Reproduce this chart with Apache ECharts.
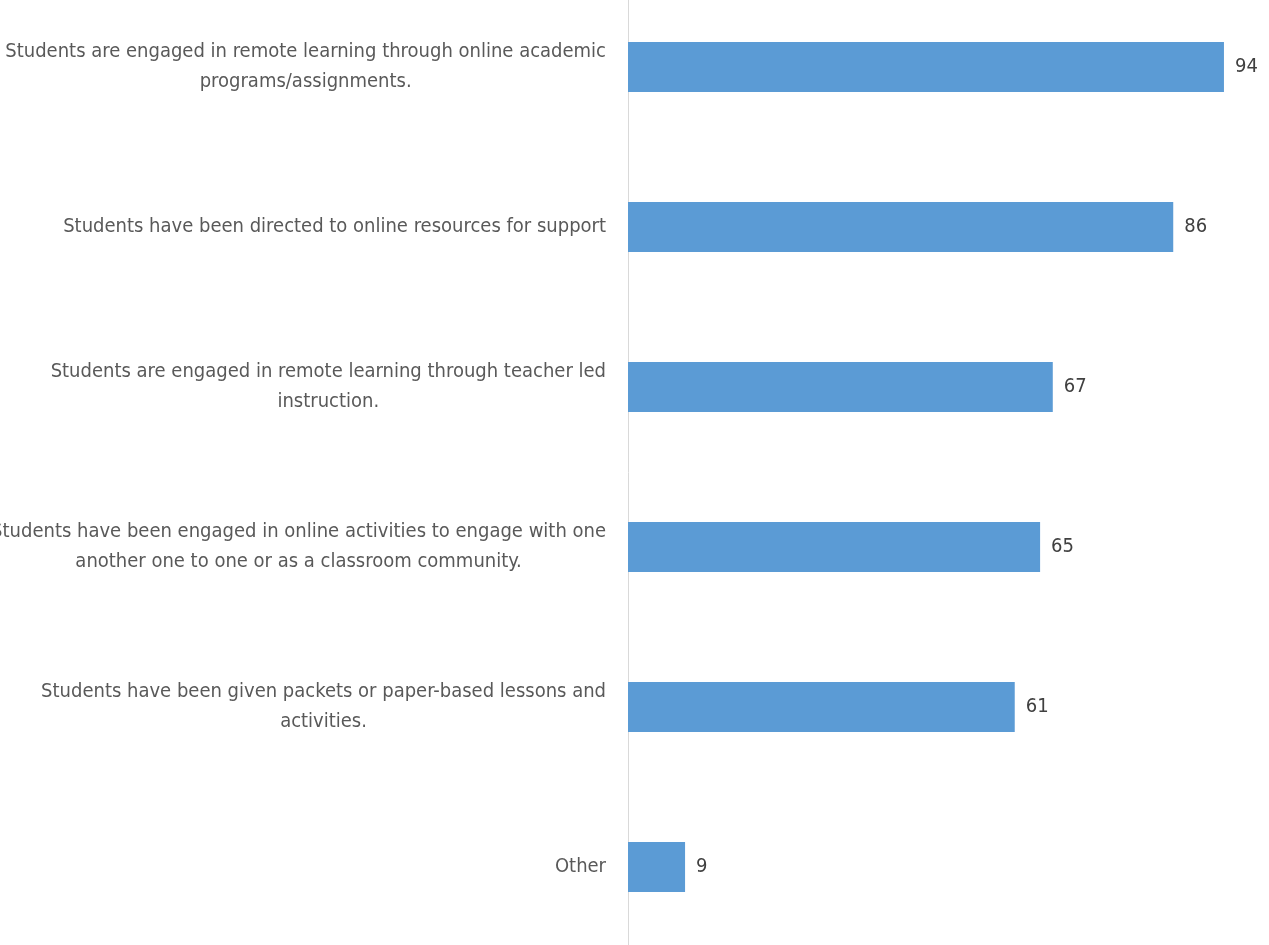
<!DOCTYPE html>
<html>
<head>
<meta charset="utf-8">
<script src="https://cdn.jsdelivr.net/npm/echarts@6/dist/echarts.min.js"></script>
<style>
  html, body { margin: 0; padding: 0; background: #fff; }
  #chart { width: 1269px; height: 945px; }
</style>
</head>
<body>
<div id="chart"></div>
<script>
// categories, top to bottom (line breaks as in the picture)
var categories = [
    'Students are engaged in remote learning through online academic\nprograms/assignments.',
    'Students have been directed to online resources for support',
    'Students are engaged in remote learning through teacher led\ninstruction.',
    'Students have been engaged in online activities to engage with one\nanother one to one or as a classroom community.',
    'Students have been given packets or paper-based lessons and\nactivities.',
    'Other'
];
var values = [94, 86, 67, 65, 61, 9];

var labelFont = '"DejaVu Sans Condensed", "Open Sans", sans-serif';

var chart = echarts.init(document.getElementById('chart'));
chart.setOption({
    animation: false,
    grid: { left: 628, right: 7, top: -13, height: 960, outerBoundsMode: 'none', containLabel: false },
    xAxis: {
        type: 'value',
        min: 0,
        max: 100,
        show: false
    },
    yAxis: {
        type: 'category',
        inverse: true,
        data: categories,
        axisLine: { show: true, lineStyle: { color: '#d9d9d9', width: 1 } },
        axisTick: { show: false },
        axisLabel: {
            margin: 22,
            formatter: function (v) {
                // each line centred inside the label block
                return v.split('\n').map(function (l) { return '{c|' + l + '}'; }).join('\n');
            },
            rich: {
                c: {
                    align: 'center',
                    fontFamily: labelFont,
                    fontSize: 20,
                    lineHeight: 30,
                    color: '#595959'
                }
            }
        }
    },
    series: [{
        type: 'bar',
        data: values,
        barWidth: 50,
        itemStyle: { color: '#5b9bd5' },
        label: {
            show: true,
            position: 'right',
            distance: 11,
            fontFamily: labelFont,
            fontSize: 20,
            color: '#404040'
        }
    }]
});
</script>
</body>
</html>
